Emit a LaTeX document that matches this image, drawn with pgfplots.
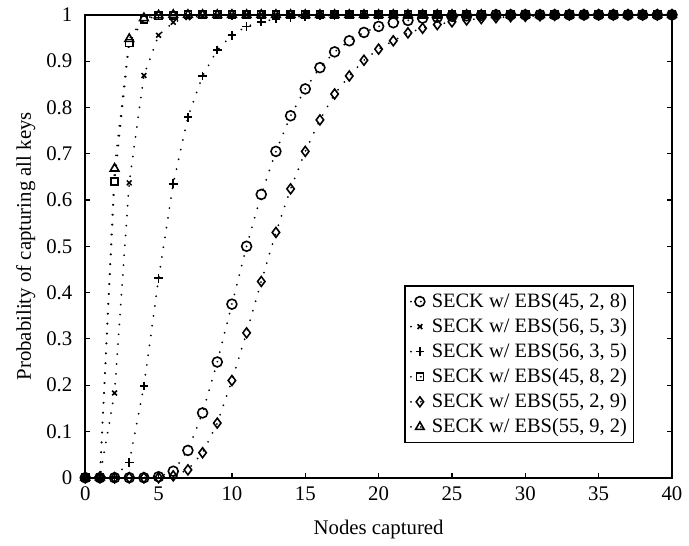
\documentclass[border=0pt]{standalone}
\usepackage{pgfplots}
\usepackage{pgfplotstable}
\pgfplotsset{compat=1.18}
\usepackage{fontspec}
\setmainfont{Liberation Serif}

% x = nodes captured, y = probability
\pgfplotstableread[row sep=\\]{
x y\\
0 0\\ 1 0\\ 2 0\\ 3 0\\ 4 0\\ 5 0.002\\ 6 0.014\\ 7 0.059\\ 8 0.140\\ 9 0.250\\
10 0.375\\ 11 0.500\\ 12 0.612\\ 13 0.705\\ 14 0.782\\ 15 0.840\\ 16 0.886\\ 17 0.920\\ 18 0.944\\ 19 0.962\\
20 0.975\\ 21 0.983\\ 22 0.988\\ 23 0.993\\ 24 0.995\\ 25 0.997\\ 26 0.998\\ 27 0.999\\ 28 1\\ 29 1\\
30 1\\ 31 1\\ 32 1\\ 33 1\\ 34 1\\ 35 1\\ 36 1\\ 37 1\\ 38 1\\ 39 1\\ 40 1\\
}\ebsA
\pgfplotstableread[row sep=\\]{
x y\\
0 0\\ 1 0.002\\ 2 0.183\\ 3 0.637\\ 4 0.869\\ 5 0.956\\ 6 0.984\\ 7 0.994\\ 8 0.998\\ 9 0.999\\
10 1\\ 11 1\\ 12 1\\ 13 1\\ 14 1\\ 15 1\\ 16 1\\ 17 1\\ 18 1\\ 19 1\\
20 1\\ 21 1\\ 22 1\\ 23 1\\ 24 1\\ 25 1\\ 26 1\\ 27 1\\ 28 1\\ 29 1\\
30 1\\ 31 1\\ 32 1\\ 33 1\\ 34 1\\ 35 1\\ 36 1\\ 37 1\\ 38 1\\ 39 1\\ 40 1\\
}\ebsB
\pgfplotstableread[row sep=\\]{
x y\\
0 0\\ 1 0\\ 2 0.003\\ 3 0.033\\ 4 0.198\\ 5 0.431\\ 6 0.635\\ 7 0.779\\ 8 0.868\\ 9 0.924\\
10 0.956\\ 11 0.975\\ 12 0.985\\ 13 0.991\\ 14 0.995\\ 15 0.997\\ 16 0.998\\ 17 0.999\\ 18 1\\ 19 1\\
20 1\\ 21 1\\ 22 1\\ 23 1\\ 24 1\\ 25 1\\ 26 1\\ 27 1\\ 28 1\\ 29 1\\
30 1\\ 31 1\\ 32 1\\ 33 1\\ 34 1\\ 35 1\\ 36 1\\ 37 1\\ 38 1\\ 39 1\\ 40 1\\
}\ebsC
\pgfplotstableread[row sep=\\]{
x y\\
0 0\\ 1 0.001\\ 2 0.640\\ 3 0.939\\ 4 0.990\\ 5 0.998\\ 6 0.999\\ 7 1\\ 8 1\\ 9 1\\
10 1\\ 11 1\\ 12 1\\ 13 1\\ 14 1\\ 15 1\\ 16 1\\ 17 1\\ 18 1\\ 19 1\\
20 1\\ 21 1\\ 22 1\\ 23 1\\ 24 1\\ 25 1\\ 26 1\\ 27 1\\ 28 1\\ 29 1\\
30 1\\ 31 1\\ 32 1\\ 33 1\\ 34 1\\ 35 1\\ 36 1\\ 37 1\\ 38 1\\ 39 1\\ 40 1\\
}\ebsD
\pgfplotstableread[row sep=\\]{
x y\\
0 0\\ 1 0\\ 2 0\\ 3 0\\ 4 0\\ 5 0\\ 6 0.004\\ 7 0.017\\ 8 0.054\\ 9 0.118\\
10 0.210\\ 11 0.313\\ 12 0.424\\ 13 0.530\\ 14 0.624\\ 15 0.705\\ 16 0.773\\ 17 0.829\\ 18 0.868\\ 19 0.902\\
20 0.926\\ 21 0.944\\ 22 0.961\\ 23 0.971\\ 24 0.979\\ 25 0.985\\ 26 0.989\\ 27 0.992\\ 28 0.994\\ 29 0.996\\
30 0.997\\ 31 0.998\\ 32 0.999\\ 33 1\\ 34 1\\ 35 1\\ 36 1\\ 37 1\\ 38 1\\ 39 1\\ 40 1\\
}\ebsE
\pgfplotstableread[row sep=\\]{
x y\\
0 0\\ 1 0.001\\ 2 0.668\\ 3 0.948\\ 4 0.993\\ 5 0.999\\ 6 1\\ 7 1\\ 8 1\\ 9 1\\
10 1\\ 11 1\\ 12 1\\ 13 1\\ 14 1\\ 15 1\\ 16 1\\ 17 1\\ 18 1\\ 19 1\\
20 1\\ 21 1\\ 22 1\\ 23 1\\ 24 1\\ 25 1\\ 26 1\\ 27 1\\ 28 1\\ 29 1\\
30 1\\ 31 1\\ 32 1\\ 33 1\\ 34 1\\ 35 1\\ 36 1\\ 37 1\\ 38 1\\ 39 1\\ 40 1\\
}\ebsF

\begin{document}
\begin{tikzpicture}
\pgfplotsset{
  ebs/.style={black, line width=1pt, line cap=round, dash pattern=on 0pt off 5pt,
    mark options={solid, line width=0.8pt, line cap=butt}},
}
\begin{axis}[
name=ax,
scale only axis,
width=296pt, height=233.5pt,
xmin=0, xmax=40, ymin=0, ymax=1,
clip=false,
axis line style={line width=0.8pt},
tick align=inside,
tick pos=both,
major tick length=2.5pt,
tick style={black, line width=0.6pt},
xtick={0,5,10,15,20,25,30,35,40},
ytick={0,0.1,0.2,0.3,0.4,0.5,0.6,0.7,0.8,0.9,1},
yticklabels={0,0.1,0.2,0.3,0.4,0.5,0.6,0.7,0.8,0.9,1},
/pgf/number format/assume math mode=true,
ticklabel style={font=\fontsize{10.5}{12}\selectfont},
yticklabel style={xshift=-3pt},
xticklabel style={yshift=-1pt},
xlabel={Nodes captured},
ylabel={Probability of capturing all keys},
label style={font=\fontsize{10.5}{12}\selectfont},
xlabel style={at={(axis description cs:0.5,0)}, anchor=center, yshift=-26pt},
ylabel style={at={(axis description cs:0,0.5)}, anchor=center, yshift=30pt},
legend cell align=left,
legend style={at={(0.936,0.075)}, anchor=south east, draw=black, line width=0.6pt,
  font=\fontsize{10.3}{12}\selectfont, inner sep=2.5pt, row sep=2pt,
  nodes={inner sep=1pt}},
legend image code/.code={
  \draw[#1, mark repeat=2, mark phase=2] plot coordinates {(0pt,0pt) (4.5pt,0pt) (9pt,0pt)};},
]
\addplot[ebs, mark=o, mark size=2.5pt] table {\ebsA};
\addlegendentry{SECK w/ EBS(45, 2, 8)}
\addplot[ebs, mark=x, mark size=1.7pt] table {\ebsB};
\addlegendentry{SECK w/ EBS(56, 5, 3)}
\addplot[ebs, mark=+, mark size=2.2pt] table {\ebsC};
\addlegendentry{SECK w/ EBS(56, 3, 5)}
\addplot[ebs, mark=square, mark size=1.8pt] table {\ebsD};
\addlegendentry{SECK w/ EBS(45, 8, 2)}
\addplot[ebs, mark=diamond, mark size=2.5pt] table {\ebsE};
\addlegendentry{SECK w/ EBS(55, 2, 9)}
\addplot[ebs, mark=triangle, mark size=2.5pt] table {\ebsF};
\addlegendentry{SECK w/ EBS(55, 9, 2)}
\end{axis}
\path ([xshift=-43pt,yshift=-30.5pt]ax.south west) rectangle ([xshift=5.5pt,yshift=7.5pt]ax.north east);
\end{tikzpicture}
\end{document}
